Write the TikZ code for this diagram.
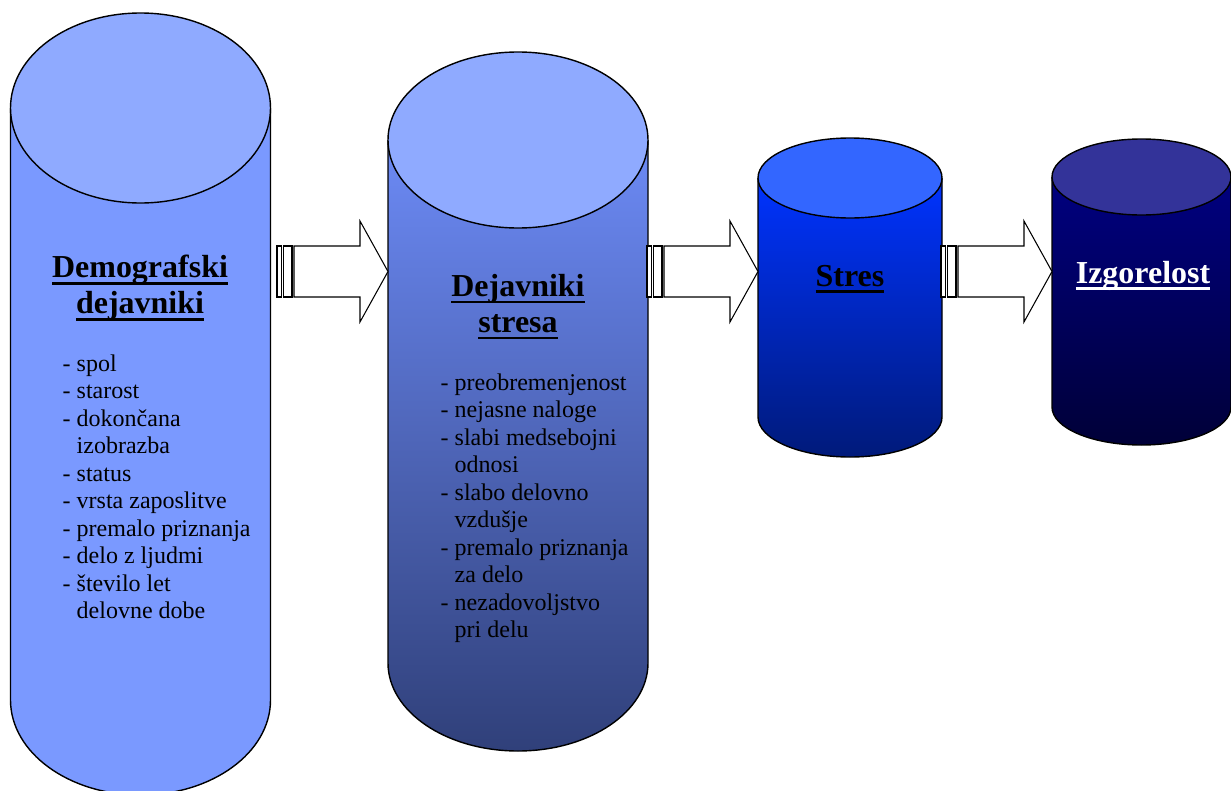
\documentclass[tikz,border=0pt]{standalone}
\usepackage{fontspec}
\setmainfont{Liberation Serif}

\definecolor{cylAtop}{RGB}{143,170,255}
\definecolor{cylAbody}{RGB}{122,153,255}
\definecolor{cylBtop}{RGB}{143,170,255}
\definecolor{cylBup}{RGB}{108,138,245}
\definecolor{cylBlow}{RGB}{48,64,122}
\definecolor{cylCtop}{RGB}{51,102,255}
\definecolor{cylCup}{RGB}{0,51,255}
\definecolor{cylClow}{RGB}{0,26,122}
\definecolor{cylDtop}{RGB}{51,51,153}
\definecolor{cylDup}{RGB}{0,0,128}
\definecolor{cylDlow}{RGB}{0,0,56}

\newcommand{\thickul}[1]{\setbox0\hbox{#1}\leavevmode\rlap{\rule[-3.8pt]{\wd0}{1.6pt}}\box0}
\newcommand{\indt}{\hphantom{-}\ }

\begin{document}
\begin{tikzpicture}[x=0.02cm,y=-0.02cm,line width=0.8pt,
    title/.style={font=\fontsize{18.2}{20.5}\selectfont\bfseries,align=center,inner sep=0},
    listtxt/.style={font=\fontsize{13.66}{15.65}\selectfont,align=left,inner sep=0,anchor=north west},
    blockarrow/.style={draw=black,fill=white,line width=0.6pt}]
  \clip (0,0) rectangle (1231,791);
  % cylinders
  \foreach \cx/\ty/\by/\rx/\ry/\ct/\cu/\cl in {140.5/108/700/130/95/cylAtop/cylAbody/cylAbody,
      518/140/663/130/88/cylBtop/cylBup/cylBlow,
      850/178/417/92/40/cylCtop/cylCup/cylClow,
      1141.5/177/407/89.5/38/cylDtop/cylDup/cylDlow}{
    \shade[top color=\cu,bottom color=\cl] (\cx-\rx,\ty) -- (\cx-\rx,\by)
      arc[start angle=180,end angle=0,x radius=\rx,y radius=\ry] -- (\cx+\rx,\ty) -- cycle;
    \draw (\cx-\rx,\ty) -- (\cx-\rx,\by)
      arc[start angle=180,end angle=0,x radius=\rx,y radius=\ry] -- (\cx+\rx,\ty);
    \filldraw[fill=\ct] (\cx,\ty) ellipse[x radius=\rx,y radius=\ry];
  }
  % striped arrows
  \foreach \ax in {277,647,941}{
    \draw[blockarrow] (\ax,246) rectangle (\ax+4.5,297);
    \draw[blockarrow] (\ax+6.5,246) rectangle (\ax+15,297);
    \draw[blockarrow] (\ax+17,246) -- (\ax+83,246) -- (\ax+83,221) -- (\ax+111,271.5)
      -- (\ax+83,322) -- (\ax+83,297) -- (\ax+17,297) -- cycle;
  }
  % texts
  \node[title] (demo) at (140,288) {\thickul{Demografski}\\\thickul{dejavniki}};
  \node[listtxt] (demolist) at (62,354) {- spol\\- starost\\- dokončana\\\indt izobrazba\\- status\\- vrsta zaposlitve\\- premalo priznanja\\- delo z ljudmi\\- število let\\\indt delovne dobe};
  \node[title] (factors) at (518,307) {\thickul{Dejavniki}\\\thickul{stresa}};
  \node[listtxt] (factlist) at (440,373) {- preobremenjenost\\- nejasne naloge\\- slabi medsebojni\\\indt odnosi\\- slabo delovno\\\indt vzdušje\\- premalo priznanja\\\indt za delo\\- nezadovoljstvo\\\indt pri delu};
  \node[title,anchor=base] (stres) at (850,286) {\thickul{Stres}};
  \node[title,anchor=base,text=white] (burnout) at (1143,283) {\thickul{Izgorelost}};
\end{tikzpicture}
\end{document}
